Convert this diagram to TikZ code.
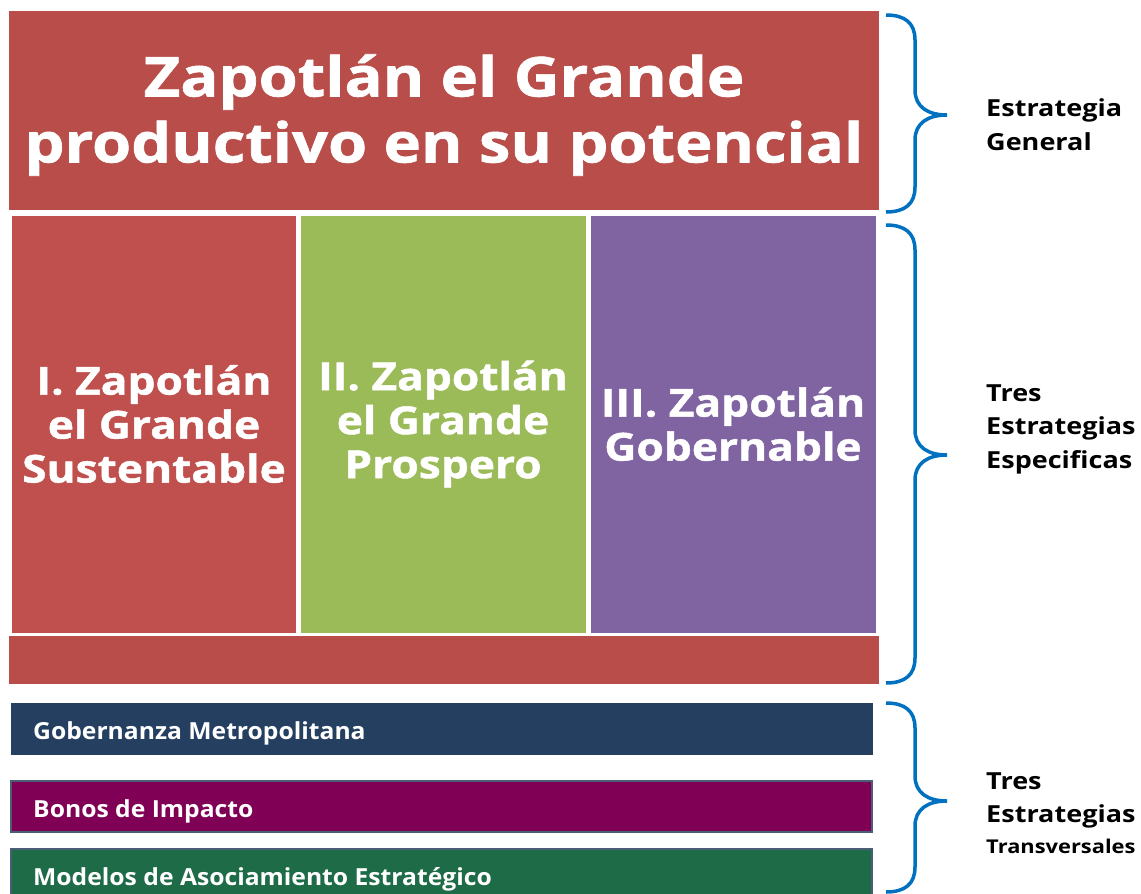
\documentclass[tikz,border=0pt]{standalone}
\usepackage{fontspec}
\setmainfont{Open Sans}[FakeStretch=1.15]
\newfontfamily\heavy{Open Sans}[FakeStretch=1.15,FakeBold=1.2]
\newfontfamily\semi{Open Sans}[FakeStretch=1.05]
\definecolor{topred}{HTML}{B94D4A}
\definecolor{colred}{HTML}{C0504D}
\definecolor{colgreen}{HTML}{9BBB59}
\definecolor{colpurple}{HTML}{8064A2}
\definecolor{barblue}{HTML}{243F60}
\definecolor{barmag}{HTML}{7F0055}
\definecolor{bargreen}{HTML}{1E6B47}
\definecolor{barline}{HTML}{4A5E78}
\definecolor{bracec}{HTML}{0070C0}
\newcommand\mybrace[3]{%
  \draw[bracestyle] (886,#1) .. controls (905,#1) and (915,#1+8) .. (915,#1+25)
    -- (915,#2-25) .. controls (915,#2-8) and (928,#2) .. (947,#2)
    .. controls (928,#2) and (915,#2+8) .. (915,#2+25)
    -- (915,#3-25) .. controls (915,#3-8) and (905,#3) .. (886,#3);}
\begin{document}
\begin{tikzpicture}[x=1pt,y=-1pt,
  box/.style={anchor=north west,inner sep=0pt,outer sep=0pt,draw=none},
  bar/.style={anchor=north west,inner sep=0pt,outer sep=0pt},
  coltext/.style={text=white,font=\heavy\bfseries\fontsize{38.5}{44}\selectfont,align=center},
  bartext/.style={anchor=base west,inner sep=0pt,text=white,font=\semi\bfseries\fontsize{23.5}{28}\selectfont},
  label/.style={anchor=base west,inner sep=0pt,align=left,font=\fontsize{23.5}{33.5}\selectfont\bfseries},
  bracestyle/.style={draw=bracec,line width=3.5pt}]
\useasboundingbox (0,0) rectangle (1141,894);
% top box
\node[box,fill=topred,minimum width=870pt,minimum height=199pt] (top) at (9,11) {};
\node[text=white,font=\heavy\bfseries\fontsize{55}{66}\selectfont,align=center] (toptext) at (444,115) {Zapotlán el Grande\\productivo en su potencial};
% columns
\node[box,fill=colred,minimum width=284pt,minimum height=417pt] (c1) at (12,216) {};
\node[box,fill=colgreen,minimum width=285pt,minimum height=417pt] (c2) at (301,216) {};
\node[box,fill=colpurple,minimum width=285pt,minimum height=417pt] (c3) at (591,216) {};
\node[coltext] (c1t) at (154,424) {I. Zapotlán\\el Grande\\Sustentable};
\node[coltext] (c2t) at (443,424) {II. Zapotlán\\el Grande\\Prospero};
\node[coltext] (c3t) at (733,424) {III. Zapotlán\\Gobernable};
% bottom red bar
\node[box,fill=topred,minimum width=870pt,minimum height=48pt] (redbar) at (9,636) {};
% transversal bars
\node[bar,fill=barblue,minimum width=862pt,minimum height=52pt] (b1) at (11,703) {};
\node[bar,fill=barmag,draw=barline,line width=1.2pt,minimum width=861pt,minimum height=51pt] (b2) at (11,781) {};
\node[bar,fill=bargreen,draw=barline,line width=1.2pt,minimum width=861pt,minimum height=50pt] (b3) at (11,849) {};
\node[bartext] (b1t) at (33,739) {Gobernanza Metropolitana};
\node[bartext] (b2t) at (33,817) {Bonos de Impacto};
\node[bartext] (b3t) at (33,885) {Modelos de Asociamiento Estratégico};
% braces
\mybrace{15}{115}{212}
\mybrace{225}{455}{683}
\mybrace{703}{801}{892}
% labels (anchored at baseline of last line)
\node[label] (l1) at (986,150) {Estrategia\\General};
\node[label] (l2) at (986,468) {Tres\\Estrategias\\Especificas};
\node[label] (l3) at (986,853) {Tres\\Estrategias\\[-3pt]{\fontsize{19}{20}\selectfont Transversales}};
\end{tikzpicture}
\end{document}
